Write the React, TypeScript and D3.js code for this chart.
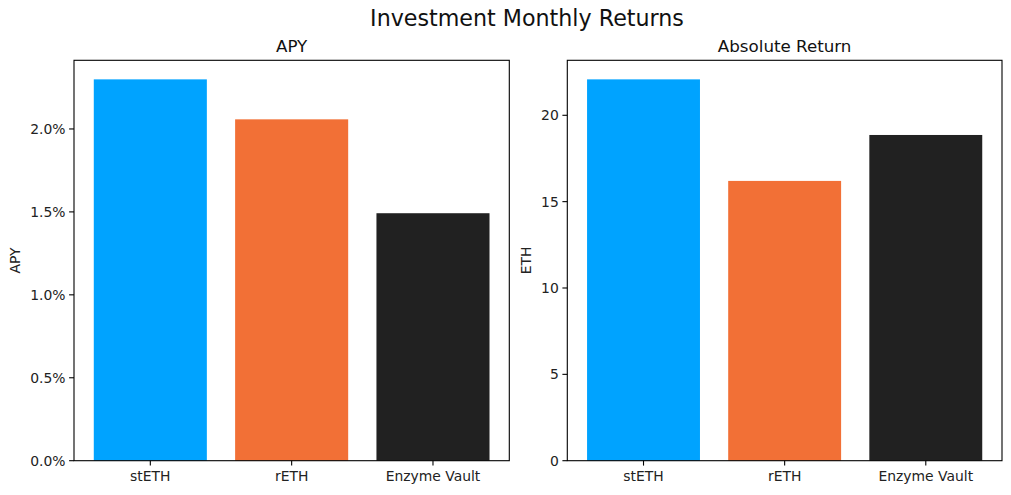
import * as d3 from 'd3';

const categories = ['stETH', 'rETH', 'Enzyme Vault'];
const apyValues = [2.299, 2.058, 1.492];
const ethValues = [22.08, 16.2, 18.86];
const barColors = ['#00A3FF', '#F27036', '#212121'];
const apyTicks = [0, 0.5, 1.0, 1.5, 2.0];
const ethTicks = [0, 5, 10, 15, 20];

const W = 1011;
const H = 495;
const FONT = 'DejaVu Sans, sans-serif';

const Panel = ({ left, right, top, bottom, values, ticks, fmt, title, ylabel, ylabelX }) => {
  const x = d3.scaleLinear().domain([-0.54, 2.54]).range([left, right]);
  const y = d3.scaleLinear().domain([0, d3.max(values) * 1.05]).range([bottom, top]);
  return (
    <g>
      {values.map((v, i) => (
        <rect
          key={i}
          x={x(i - 0.4)}
          width={x(0.8) - x(0)}
          y={y(v)}
          height={y(0) - y(v)}
          fill={barColors[i]}
        />
      ))}
      <rect x={left} y={top} width={right - left} height={bottom - top} fill="none" stroke="#000" strokeWidth={1.1} />
      {ticks.map((t) => (
        <g key={t}>
          <line x1={left - 4.9} x2={left} y1={y(t)} y2={y(t)} stroke="#000" strokeWidth={1.1} />
          <text x={left - 8.5} y={y(t)} dy="0.35em" textAnchor="end" fontSize={13.9} fontFamily={FONT} fill="#222">
            {fmt(t)}
          </text>
        </g>
      ))}
      {categories.map((c, i) => (
        <g key={c}>
          <line x1={x(i)} x2={x(i)} y1={bottom} y2={bottom + 4.9} stroke="#000" strokeWidth={1.1} />
          <text x={x(i)} y={bottom + 20} textAnchor="middle" fontSize={13.9} fontFamily={FONT} fill="#222">
            {c}
          </text>
        </g>
      ))}
      <text x={(left + right) / 2} y={52} textAnchor="middle" fontSize={16.7} fontFamily={FONT} fill="#111">
        {title}
      </text>
      <text
        transform={`translate(${ylabelX},${(top + bottom) / 2}) rotate(-90)`}
        textAnchor="middle"
        fontSize={13.9}
        fontFamily={FONT}
        fill="#222"
      >
        {ylabel}
      </text>
    </g>
  );
};

export default function App() {
  const top = 60.3;
  const bottom = 460.7;
  return (
    <svg width={W} height={H} style={{ position: 'absolute', left: 0, top: 0, background: '#fff' }}>
      <rect width={W} height={H} fill="#fff" />
      <text x={527} y={26} textAnchor="middle" fontSize={22.2} fontFamily={FONT} fill="#111">
        Investment Monthly Returns
      </text>
      <Panel
        left={74}
        right={509.3}
        top={top}
        bottom={bottom}
        values={apyValues}
        ticks={apyTicks}
        fmt={(t) => `${t.toFixed(1)}%`}
        title="APY"
        ylabel="APY"
        ylabelX={19.5}
      />
      <Panel
        left={567.3}
        right={1002}
        top={top}
        bottom={bottom}
        values={ethValues}
        ticks={ethTicks}
        fmt={(t) => `${t}`}
        title="Absolute Return"
        ylabel="ETH"
        ylabelX={530.5}
      />
    </svg>
  );
}
